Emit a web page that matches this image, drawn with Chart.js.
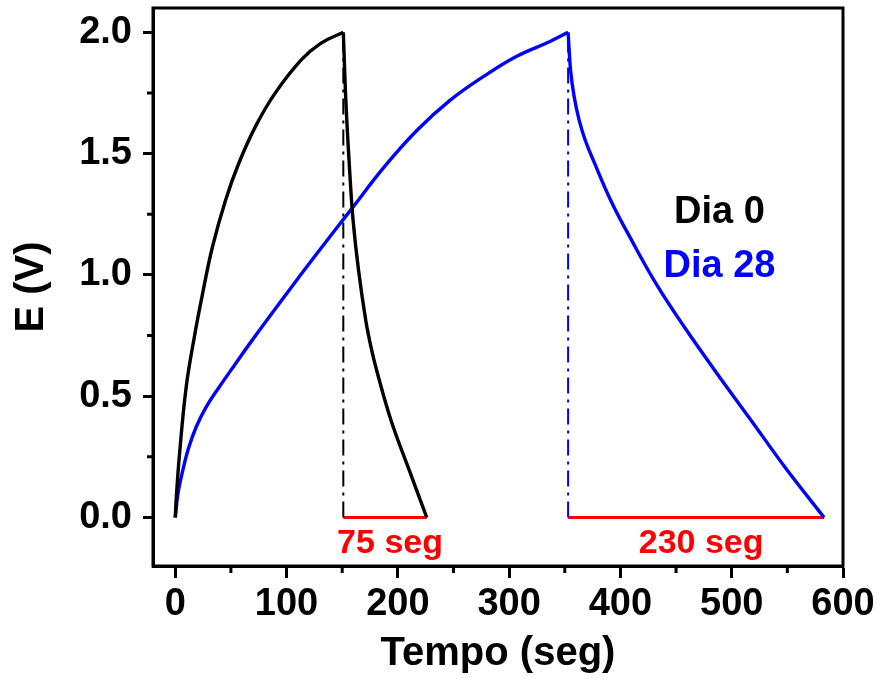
<!DOCTYPE html>
<html>
<head>
<meta charset="utf-8">
<script src="https://cdn.jsdelivr.net/npm/chart.js@4.4.1/dist/chart.umd.min.js"></script>
<style>
  html, body { margin: 0; padding: 0; background: #ffffff; }
  #wrap { width: 878px; height: 679px; }
</style>
</head>
<body>
<div id="wrap"><canvas id="c" width="878" height="679"></canvas></div>
<script>
// Galvanostatic charge/discharge curves, potential E (V) vs time (s)
const seriesNames = ['Dia 0', 'Dia 28'];
const seriesColors = ['#000000', '#0000ff'];

// Dia 0: charge branch
const dia0ChargeT = [0, 1.2, 3.8, 9.8, 17.1, 24.5, 33.4, 45.2, 57, 71.9, 89.6, 113.2, 131, 151];
const dia0ChargeV = [0, 0.10, 0.26, 0.537, 0.743, 0.922, 1.115, 1.308, 1.459, 1.61, 1.748, 1.886, 1.955, 2.0];
// Dia 0: discharge branch
const dia0DischargeT = [151, 153.4, 156.7, 159.8, 164.7, 171.2, 176.0, 181.0, 194.0, 210.4, 226];
const dia0DischargeV = [2.0, 1.707, 1.43, 1.225, 1.019, 0.812, 0.70, 0.606, 0.399, 0.193, 0];

// Dia 28: charge branch
const dia28ChargeT = [0, 2.4, 6.7, 11.9, 18.7, 27.7, 39.4, 54.0, 69.0, 98.8, 128.5, 158.1, 187.8, 217.5, 247.1, 276.8, 306.4, 336.2, 353];
const dia28ChargeV = [0, 0.097, 0.193, 0.285, 0.372, 0.455, 0.537, 0.633, 0.73, 0.915, 1.095, 1.27, 1.445, 1.597, 1.72, 1.817, 1.9, 1.961, 2.0];
// Dia 28: discharge branch
const dia28DischargeT = [353, 355.2, 358.4, 362.9, 368.4, 375.6, 391.2, 410.0, 432.0, 457.0, 485.3, 516.7, 547.9, 583];
const dia28DischargeV = [2.0, 1.844, 1.735, 1.638, 1.555, 1.473, 1.308, 1.143, 0.964, 0.788, 0.603, 0.405, 0.207, 0];

// Discharge start time and discharge duration (s) for each day
const dischargeStart = [151, 353];
const dischargeTime = [75, 230];
const peakV = 2.0;

// Axis ticks
const xTicks = [0, 100, 200, 300, 400, 500, 600];
const xMinorTicks = [50, 150, 250, 350, 450, 550];
const yTicks = [0.0, 0.5, 1.0, 1.5, 2.0];
const yMinorTicks = [0.25, 0.75, 1.25, 1.75];

const FONT = "'Liberation Sans', Arial, Helvetica, sans-serif";

function pts(ts, vs) { return ts.map((t, i) => ({ x: t, y: vs[i] })); }

function curve(ts, vs, color) {
  return {
    data: pts(ts, vs),
    borderColor: color,
    borderWidth: 3.4,
    pointRadius: 0,
    tension: 0.4,
    borderJoinStyle: 'round',
    fill: false
  };
}

const datasets = [
  curve(dia0ChargeT, dia0ChargeV, seriesColors[0]),
  curve(dia0DischargeT, dia0DischargeV, seriesColors[0]),
  curve(dia28ChargeT, dia28ChargeV, seriesColors[1]),
  curve(dia28DischargeT, dia28DischargeV, seriesColors[1])
];

// dash-dot marker at the start of each discharge, red bar spanning the discharge time
dischargeStart.forEach((t0, i) => {
  datasets.push({
    data: [{ x: t0, y: 0 }, { x: t0, y: peakV }],
    borderColor: seriesColors[i],
    borderWidth: 2,
    borderDash: [16, 6, 3, 6],
    pointRadius: 0,
    tension: 0
  });
  datasets.push({
    data: [{ x: t0, y: 0 }, { x: t0 + dischargeTime[i], y: 0 }],
    borderColor: '#ff0000',
    borderWidth: 3,
    pointRadius: 0,
    tension: 0
  });
});

const extras = {
  id: 'extras',
  afterDraw(chart) {
    const { ctx, chartArea: a, scales: { x, y } } = chart;
    ctx.save();
    // frame
    ctx.strokeStyle = '#000';
    ctx.lineWidth = 3;
    ctx.strokeRect(a.left, a.top, a.right - a.left, a.bottom - a.top);
    // minor ticks
    ctx.beginPath();
    xMinorTicks.forEach(v => {
      const px = x.getPixelForValue(v);
      ctx.moveTo(px, a.bottom);
      ctx.lineTo(px, a.bottom + 7);
    });
    yMinorTicks.forEach(v => {
      const py = y.getPixelForValue(v);
      ctx.moveTo(a.left, py);
      ctx.lineTo(a.left - 6, py);
    });
    ctx.stroke();

    // discharge time labels
    ctx.font = `bold 34px ${FONT}`;
    ctx.fillStyle = '#ff0000';
    ctx.textAlign = 'center';
    ctx.textBaseline = 'alphabetic';
    const y0 = y.getPixelForValue(0);
    dischargeStart.forEach((t0, i) => {
      const cx = x.getPixelForValue(t0 + dischargeTime[i] / 2) + 5;
      ctx.fillText(`${dischargeTime[i]} seg`, cx, y0 + 36);
    });

    // series labels
    ctx.font = `bold 38px ${FONT}`;
    const lx = x.getPixelForValue(489);
    ctx.fillStyle = seriesColors[0];
    ctx.fillText(seriesNames[0], lx, y.getPixelForValue(1.213));
    ctx.fillStyle = seriesColors[1];
    ctx.fillText(seriesNames[1], lx, y.getPixelForValue(0.99));
    ctx.restore();
  }
};

new Chart(document.getElementById('c'), {
  type: 'line',
  data: { datasets },
  plugins: [extras],
  options: {
    responsive: false,
    animation: false,
    layout: { padding: { top: 8, right: 35, left: 0, bottom: 0 } },
    plugins: { legend: { display: false }, tooltip: { enabled: false } },
    scales: {
      x: {
        type: 'linear',
        min: -20,
        max: 600,
        afterBuildTicks: s => { s.ticks = xTicks.map(v => ({ value: v })); },
        afterFit: s => { s.height = 113; s.paddingLeft = 0; s.paddingRight = 0; },
        grid: { drawOnChartArea: false, drawTicks: true, tickLength: 12, tickWidth: 3, tickColor: '#000' },
        border: { display: true, color: '#000', width: 3 },
        ticks: {
          color: '#000',
          font: { family: FONT, size: 38, weight: 'bold' },
          padding: 4,
          maxRotation: 0,
          autoSkip: false,
          callback: v => String(v)
        },
        title: {
          display: true,
          text: 'Tempo (seg)',
          color: '#000',
          font: { family: FONT, size: 40, weight: 'bold' },
          padding: { top: 0, bottom: 1 }
        }
      },
      y: {
        type: 'linear',
        min: -0.2,
        max: 2.1,
        afterBuildTicks: s => { s.ticks = yTicks.map(v => ({ value: v })); },
        afterFit: s => { s.width = 153; s.paddingTop = 0; s.paddingBottom = 0; },
        grid: { drawOnChartArea: false, drawTicks: true, tickLength: 10, tickWidth: 3, tickColor: '#000' },
        border: { display: true, color: '#000', width: 3 },
        ticks: {
          color: '#000',
          font: { family: FONT, size: 38, weight: 'bold' },
          padding: 11,
          autoSkip: false,
          callback: v => Number(v).toFixed(1)
        },
        title: {
          display: true,
          text: 'E (V)',
          color: '#000',
          font: { family: FONT, size: 40, weight: 'bold' },
          padding: { top: 8, bottom: 0 }
        }
      }
    }
  }
});
</script>
</body>
</html>
